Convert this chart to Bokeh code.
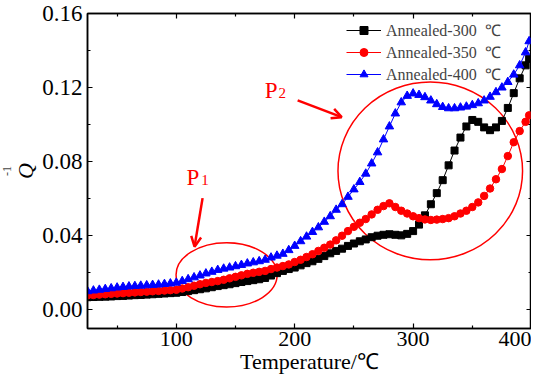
import numpy as np
from bokeh.plotting import figure
from bokeh.models import (Range1d, FixedTicker, PrintfTickFormatter, LinearAxis,
                          Label, Arrow, OpenHead, Legend, LegendItem, Title)
from bokeh.embed import file_html
from bokeh.resources import INLINE

temperature = [25, 30, 35, 40, 45, 50, 55, 60, 65, 70, 75, 80, 85, 90, 95, 100,
               105, 110, 115, 120, 125, 130, 135, 140, 145, 150, 155, 160, 165, 170,
               175, 180, 185, 190, 195, 200, 205, 210, 215, 220, 225, 230, 235, 240,
               245, 250, 255, 260, 265, 270, 275, 280, 285, 290, 295, 300, 305, 310,
               315, 320, 325, 330, 335, 340, 345, 350, 355, 360, 365, 370, 375, 380,
               385, 390, 395, 398]

q_300 = [0.0068, 0.0069, 0.0070, 0.0071, 0.0072, 0.0074, 0.0075, 0.0077, 0.0079, 0.0080,
         0.0082, 0.0084, 0.0086, 0.0088, 0.0090, 0.0092, 0.0096, 0.0101, 0.0106, 0.0111,
         0.0116, 0.0122, 0.0128, 0.0133, 0.0138, 0.0144, 0.0150, 0.0155, 0.0160, 0.0165,
         0.0172, 0.0185, 0.0198, 0.0210, 0.0220, 0.0228, 0.0240, 0.0252, 0.0262, 0.0275,
         0.0290, 0.0305, 0.0318, 0.0330, 0.0345, 0.0358, 0.0370, 0.0380, 0.0392, 0.0400,
         0.0405, 0.0408, 0.0405, 0.0402, 0.0410, 0.0425, 0.0460, 0.0510, 0.0570, 0.0630,
         0.0700, 0.0780, 0.0860, 0.0930, 0.0990, 0.1025, 0.1015, 0.0985, 0.0970, 0.0985,
         0.1020, 0.1090, 0.1170, 0.1250, 0.1320, 0.1355]

q_350 = [0.0078, 0.0080, 0.0082, 0.0084, 0.0086, 0.0088, 0.0090, 0.0092, 0.0094, 0.0096,
         0.0098, 0.0100, 0.0102, 0.0104, 0.0106, 0.0108, 0.0115, 0.0122, 0.0130, 0.0138,
         0.0145, 0.0150, 0.0155, 0.0162, 0.0170, 0.0178, 0.0186, 0.0194, 0.0200, 0.0205,
         0.0210, 0.0220, 0.0228, 0.0236, 0.0245, 0.0258, 0.0270, 0.0285, 0.0300, 0.0318,
         0.0335, 0.0352, 0.0375, 0.0400, 0.0425, 0.0448, 0.0470, 0.0490, 0.0515, 0.0540,
         0.0560, 0.0575, 0.0555, 0.0535, 0.0520, 0.0505, 0.0495, 0.0488, 0.0485, 0.0487,
         0.0490, 0.0495, 0.0505, 0.0520, 0.0535, 0.0555, 0.0580, 0.0615, 0.0655, 0.0705,
         0.0760, 0.0830, 0.0905, 0.0965, 0.1015, 0.1050]

q_400 = [0.0100, 0.0104, 0.0108, 0.0112, 0.0116, 0.0120, 0.0123, 0.0126, 0.0128, 0.0130,
         0.0132, 0.0134, 0.0136, 0.0139, 0.0142, 0.0146, 0.0155, 0.0165, 0.0175, 0.0185,
         0.0196, 0.0205, 0.0215, 0.0222, 0.0228, 0.0235, 0.0242, 0.0250, 0.0256, 0.0262,
         0.0270, 0.0282, 0.0292, 0.0302, 0.0322, 0.0345, 0.0370, 0.0395, 0.0420, 0.0445,
         0.0475, 0.0505, 0.0540, 0.0570, 0.0610, 0.0650, 0.0690, 0.0735, 0.0790, 0.0850,
         0.0920, 0.0990, 0.1060, 0.1120, 0.1155, 0.1168, 0.1160, 0.1148, 0.1130, 0.1110,
         0.1095, 0.1088, 0.1088, 0.1092, 0.1097, 0.1105, 0.1115, 0.1130, 0.1150, 0.1175,
         0.1200, 0.1230, 0.1270, 0.1320, 0.1390, 0.1450]

series_labels = ["Annealed-300  \u2103", "Annealed-350  \u2103", "Annealed-400  \u2103"]
x_major = [100, 200, 300, 400]
x_minor = [50, 150, 250, 350]
y_major = [0.00, 0.04, 0.08, 0.12, 0.16]
y_minor = [0.02, 0.06, 0.10, 0.14]

FONT = "Liberation Serif"
RED = "#ff0000"

p = figure(frame_width=444, height=376, output_backend="svg", toolbar_location=None,
           x_range=Range1d(25, 400), y_range=Range1d(-0.0101, 0.16),
           min_border_left=0, min_border_top=13, min_border_right=0, min_border_bottom=0)
p.grid.visible = False
p.outline_line_color = "black"
p.outline_line_width = 1.5
p.background_fill_color = "white"
p.border_fill_color = "white"

def style_axis(ax, ticks, minor, labels=True):
    ax.ticker = FixedTicker(ticks=ticks, minor_ticks=minor)
    ax.axis_line_width = 1.5
    ax.axis_line_color = "black"
    ax.major_tick_in = 5
    ax.major_tick_out = 0
    ax.minor_tick_in = 3
    ax.minor_tick_out = 0
    ax.major_tick_line_width = 1.2
    ax.minor_tick_line_width = 1.2
    ax.major_label_text_font = FONT
    ax.major_label_text_font_size = "22px"
    ax.major_label_text_color = "black"
    ax.axis_label_text_font = FONT
    ax.axis_label_text_font_size = "22px"
    ax.axis_label_text_font_style = "normal"
    ax.axis_label_text_color = "black"
    if not labels:
        ax.major_label_overrides = {t: "" for t in ticks}
        ax.major_label_standoff = 0
        ax.axis_label_standoff = 0

style_axis(p.xaxis[0], x_major, x_minor)
style_axis(p.yaxis[0], y_major, y_minor)
p.xaxis[0].major_label_standoff = 3
p.yaxis[0].major_label_standoff = 5
p.yaxis[0].major_label_text_font_size = "23px"
p.yaxis[0].formatter = PrintfTickFormatter(format="%.2f")
p.xaxis[0].axis_label = "Temperature/\u2103"
p.xaxis[0].axis_label_standoff = 0
p.yaxis[0].axis_label = "Q"
p.yaxis[0].axis_label_text_font_style = "italic"
p.yaxis[0].axis_label_standoff = 1

top = LinearAxis()
style_axis(top, x_major, x_minor, labels=False)
p.add_layout(top, "above")
right = LinearAxis()
style_axis(right, y_major, y_minor, labels=False)
p.add_layout(right, "right")

# superscript of the y-axis title
p.add_layout(Title(text="-1", text_font=FONT, text_font_size="12px", text_font_style="normal",
                   align="center", offset=26, standoff=0), "left")

# annotations: ellipses
p.ellipse(x=142.5, y=0.0189, width=85.4, height=0.0347, fill_color=None,
          line_color=RED, line_width=1.5)
p.ellipse(x=314.5, y=0.075, width=155.9, height=0.096, fill_color=None,
          line_color=RED, line_width=1.5)

# data
colors = ["black", RED, "blue"]
markers = ["square", "circle", "triangle"]
sizes = [7, 7.5, 8.5]
items = []
for q, c, m, s, lab in zip([q_300, q_350, q_400], colors, markers, sizes, series_labels):
    r1 = p.line(temperature, q, line_color=c, line_width=1)
    r2 = p.scatter(temperature, q, marker=m, size=s, fill_color=c, line_color=c)
    items.append(LegendItem(label=lab, renderers=[r1, r2]))

legend = Legend(items=items, border_line_color=None,
                background_fill_alpha=0, label_text_font=FONT, label_text_font_size="16px",
                glyph_width=35, glyph_height=20, label_height=20, spacing=0, padding=0,
                margin=0, label_standoff=5)
p.add_layout(legend, "center")
legend.location = (259, 243)

# arrows
p.add_layout(Arrow(end=OpenHead(size=10, line_color=RED, line_width=2.5),
                   x_start=122.2, y_start=0.0603, x_end=115.4, y_end=0.0341,
                   line_color=RED, line_width=2.5))
p.add_layout(Arrow(end=OpenHead(size=10, line_color=RED, line_width=2.5),
                   x_start=202.5, y_start=0.1131, x_end=239.7, y_end=0.104,
                   line_color=RED, line_width=2.5))

# P labels
p.add_layout(Label(x=108.7, y=0.0715, text="P", text_font=FONT, text_font_size="23px",
                   text_color=RED, text_baseline="alphabetic"))
p.add_layout(Label(x=121.0, y=0.0700, text="1", text_font=FONT, text_font_size="15px",
                   text_color=RED, text_baseline="alphabetic"))
p.add_layout(Label(x=174.6, y=0.1184, text="P", text_font=FONT, text_font_size="23px",
                   text_color=RED, text_baseline="alphabetic"))
p.add_layout(Label(x=186.3, y=0.1172, text="2", text_font=FONT, text_font_size="15px",
                   text_color=RED, text_baseline="alphabetic"))

open("out.html", "w").write(file_html(p, INLINE))
